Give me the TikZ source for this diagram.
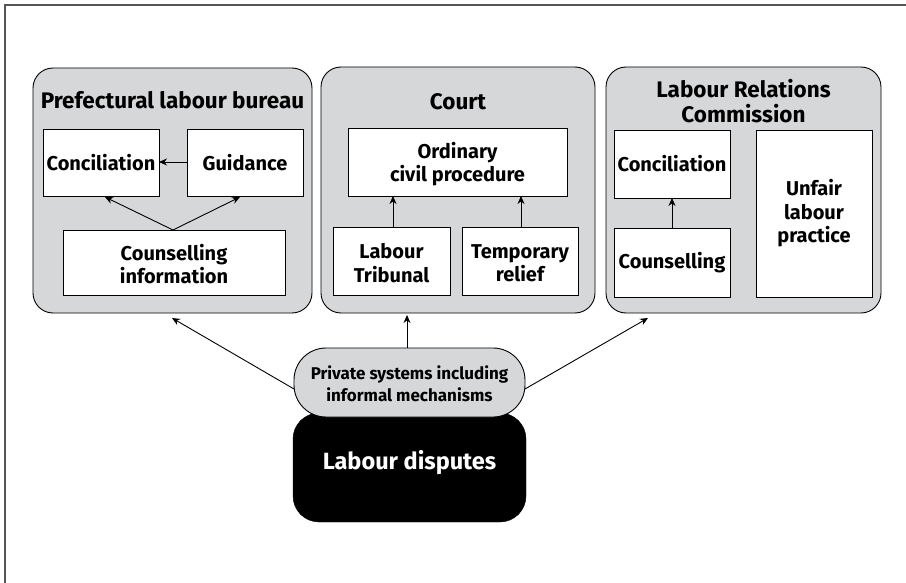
\documentclass[tikz,border=0pt]{standalone}
\usepackage{fontspec}
\setmainfont{Fira Sans}
\usetikzlibrary{arrows.meta}
\definecolor{panelgray}{HTML}{D6D7D9}
\definecolor{framegray}{HTML}{555555}
\tikzset{
  panel/.style={draw=black, line width=0.9pt, fill=panelgray, rounded corners=20pt},
  inbox/.style={draw=black, line width=0.9pt, fill=white},
  ttl/.style={font=\fontsize{22.5}{25}\selectfont\bfseries, align=center, inner sep=0pt},
  txt/.style={font=\fontsize{20}{23.5}\selectfont\bfseries, align=center, inner sep=0pt},
  arr/.style={-{Stealth[length=8pt,width=7pt]}, line width=0.9pt},
}
\begin{document}
\begin{tikzpicture}[x=1pt,y=-1pt]
\useasboundingbox (0,0) rectangle (906,583);
\draw[framegray, line width=2pt] (906,5) -- (5,5) -- (5,583);
% panels
\draw[panel] (33,68) rectangle (312,313);
\draw[panel] (321,67) rectangle (595,313);
\draw[panel] (606,67) rectangle (881,313);
% panel 1
\node[ttl] (t1) at (172.5,100) {Prefectural labour bureau};
\draw[inbox] (43,129) rectangle (159,196);
\node[txt] (conc1) at (101,162.5) {Conciliation};
\draw[inbox] (187,129) rectangle (303,196);
\node[txt] (guid) at (245,162.5) {Guidance};
\draw[inbox] (63,230) rectangle (285,295);
\node[txt] (couns1) at (174,264) {Counselling\\information};
\coordinate (c1top) at (173,230);
\coordinate (conc1b) at (105,197);
\coordinate (guidb) at (240,197);
\coordinate (guidl) at (187,162);
\coordinate (conc1r) at (159,162);
\draw[arr] (guidl) -- (conc1r);
\draw[arr] (c1top) -- (conc1b);
\draw[arr] (c1top) -- (guidb);
% panel 2
\node[ttl] (t2) at (458,102) {Court};
\draw[inbox] (348,128) rectangle (567,196);
\node[txt] (ord) at (457.5,164) {Ordinary\\civil procedure};
\draw[inbox] (333,227) rectangle (450,295);
\node[txt] (trib) at (391.5,263) {Labour\\Tribunal};
\draw[inbox] (462,227) rectangle (578,295);
\node[txt] (temp) at (520,263) {Temporary\\relief};
\coordinate (tribt) at (393,227);
\coordinate (ordb1) at (393,196);
\coordinate (tempt) at (521,227);
\coordinate (ordb2) at (521,196);
\draw[arr] (tribt) -- (ordb1);
\draw[arr] (tempt) -- (ordb2);
% panel 3
\node[ttl] (t3) at (743.5,101.5) {Labour Relations\\Commission};
\draw[inbox] (614,130) rectangle (730,198);
\node[txt] (conc3) at (672,164) {Conciliation};
\draw[inbox] (614,228) rectangle (730,297);
\node[txt] (couns3) at (672,262.5) {Counselling};
\draw[inbox] (756,130) rectangle (872,297);
\node[txt] (unfair) at (814,213.5) {Unfair\\labour\\practice};
\coordinate (c3t) at (672,228);
\coordinate (c3b) at (672,198);
\draw[arr] (c3t) -- (c3b);
% bottom
\draw[fill=black, rounded corners=26pt] (293,413) rectangle (526,522);
\node[font=\fontsize{23.5}{26}\selectfont\bfseries, text=white, inner sep=0pt] (ld) at (409.5,463) {Labour disputes};
\draw[fill=panelgray, line width=0.9pt, rounded corners=32pt] (294,348) rectangle (525,417);
\node[font=\fontsize{17}{22}\selectfont\bfseries, align=center, inner sep=0pt] (priv) at (409.5,384) {Private systems including\\informal mechanisms};
\coordinate (pl) at (294,389);
\coordinate (pr) at (525,389);
\coordinate (pt) at (407,348);
\coordinate (p1) at (172,318);
\coordinate (p2) at (407,315);
\coordinate (p3) at (648,318);
\draw[arr] (pl) -- (p1);
\draw[arr] (pt) -- (p2);
\draw[arr] (pr) -- (p3);
\end{tikzpicture}
\end{document}
